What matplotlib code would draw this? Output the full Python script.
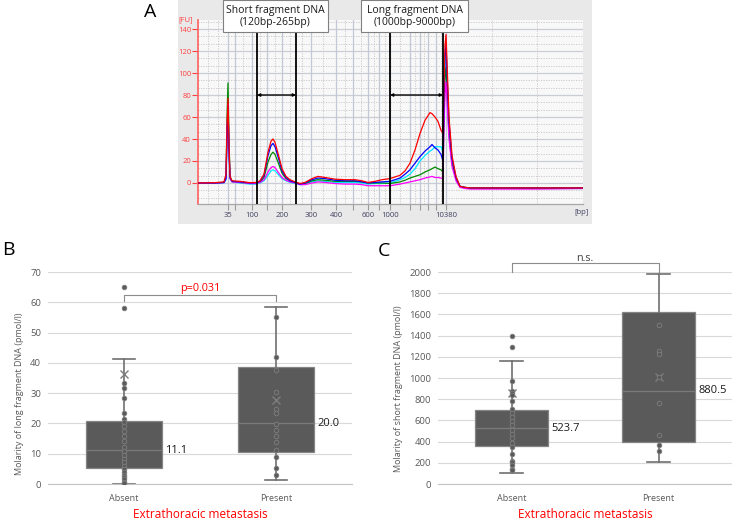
import numpy as np
import matplotlib
matplotlib.use('Agg')
import matplotlib.pyplot as plt
from matplotlib.patches import Rectangle

plt.rcParams['font.family'] = ['Open Sans', 'DejaVu Sans']

# ---------------- Panel A data (electropherogram) ----------------
migration = [0, 17, 26, 28, 29, 30, 31, 32, 34, 42,
             52, 58, 62, 66, 70, 73, 75, 77, 80, 84,
             88, 92, 97, 102, 107, 114, 120, 127, 137, 147,
             157, 164, 170, 177, 184, 192, 202, 207, 212, 217,
             222, 227, 232, 234, 237, 240, 243, 245, 246, 247,
             248, 249, 251, 254, 258, 262, 267, 272, 302, 342,
             385]
trace_red = [0, 0.3, 1, 8, 50, 77, 35, 6, 2, 1.5,
             0.3, 0.5, 2, 8, 28, 38, 40, 37, 27, 13,
             6, 3, 1, -0.5, 0.5, 4, 6, 5, 3.5, 3,
             3, 2, 0.5, 1.5, 3, 4, 7, 11, 18, 30,
             45, 57, 64, 63, 60, 56, 48, 45, 90, 125,
             135, 110, 60, 25, 6, -3, -4, -4.5, -4.5, -4.5,
             -4.5]
trace_blue = [0, 0, 0.5, 4, 40, 70, 30, 5, 1.5, 1,
              0, 0.3, 1.5, 7, 25, 34, 36, 33, 24, 11,
              5, 2, 0.5, -1, 0, 3, 4.5, 4, 2.5, 2,
              2, 1, 0, 0.5, 1, 1.5, 4.5, 8, 12, 18,
              24, 29, 33, 35, 32, 30, 26, 20, 80, 115,
              127, 100, 55, 22, 5, -3, -4, -4.5, -4.5, -4.5,
              -4.5]
trace_cyan = [0, 0, 0, 3, 35, 68, 25, 4, 1, 0,
              -1, -1, 0, 2, 7, 11, 12, 11, 8, 4,
              2, 0.5, -0.5, -1.5, -1, 1, 2, 1.5, 0.5, 0.5,
              0.5, 0, -1, -0.5, -0.5, 0, 3, 5, 8, 13,
              20, 25, 29, 30, 33, 33, 33, 28, 70, 105,
              118, 95, 50, 20, 4, -3, -4.5, -5, -5, -5,
              -5]
trace_green = [0, 0, 0.5, 6, 60, 91, 40, 6, 1.5, 0.5,
               0, 0, 1, 5, 19, 26, 28, 26, 19, 9,
               4, 2, 0.5, -1, -0.5, 2, 3, 2.5, 1.5, 1.5,
               1.5, 1, 0, 0, 0, -0.5, 1, 2.5, 4.5, 6,
               7.5, 10, 12, 13, 14.5, 13, 12, 10, 60, 95,
               105, 85, 45, 18, 4, -3, -4, -4.5, -4.5, -4.5,
               -4.5]
trace_magenta = [0, 0, 0.3, 4, 45, 72, 28, 4, 1, 0.5,
                 -0.5, -0.5, 0.5, 3, 10, 14, 15, 14, 10, 5,
                 2.5, 1, 0, -1.5, -1.5, 0, 1, 0.5, -0.5, -1,
                 -1, -1.5, -2.5, -2.5, -2.5, -2.5, -1, 0, 1, 2,
                 3, 4.5, 5.5, 6, 5, 5, 4.5, 4, 50, 80,
                 92, 75, 40, 15, 2, -4, -5, -5.5, -5.5, -5.5,
                 -5]

ladder_bp = [35, 50, 100, 150, 200, 300, 400, 500, 600, 700, 1000, 1500, 2000, 3000, 7000, 10380]
ladder_pos = [30, 37, 54, 69, 84, 113, 138, 155, 170, 181, 192, 212, 222, 230, 238, 248]
labeled_bp = [35, 100, 200, 300, 400, 600, 1000, 10380]
dotted_pos = [10, 20, 45, 62, 77, 92, 104, 125, 147, 163, 176, 187, 202, 217, 226, 243, 294, 339]
fu_ticks = [0, 20, 40, 60, 80, 100, 120, 140]
short_range = [59, 98]     # 120bp - 265bp
long_range = [192, 245]    # 1000bp - 9000bp
short_label = "Short fragment DNA\n(120bp-265bp)"
long_label = "Long fragment DNA\n(1000bp-9000bp)"

# ---------------- Panel B data ----------------
groups = ['Absent', 'Present']
long_q1 = [5.3, 10.5]
long_med = [11.1, 20.0]
long_q3 = [20.9, 38.6]
long_lo = [0.0, 1.2]
long_hi = [41.3, 58.6]
long_mean = [36.2, 27.6]
long_pts_absent = [64.9, 58.2, 33.3, 31.8, 28.4, 23.6, 21.6, 20.6, 19.0, 17.5, 15.7, 14.3,
                   12.3, 11.0, 9.6, 8.2, 7.1, 6.0, 4.9, 4.0, 2.9, 2.2, 1.5, 0.8, 0.4]
long_pts_present = [55.1, 42.0, 37.5, 30.4, 24.8, 23.5, 19.8, 17.9, 15.9, 13.9, 11.2, 9.0, 5.2, 3.0]
long_med_labels = ['11.1', '20.0']
long_p = 'p=0.031'

# ---------------- Panel C data ----------------
short_q1 = [358, 392]
short_med = [523.7, 880.5]
short_q3 = [697, 1620]
short_lo = [100, 207]
short_hi = [1158, 1978]
short_mean = [858, 1005]
short_pts_absent = [1394, 1290, 970, 873, 854, 835, 785, 703, 672, 634, 597, 556, 509, 471,
                    430, 389, 352, 279, 220, 204, 179, 138, 132]
short_pts_present = [1498, 1256, 1224, 1005, 763, 458, 367, 311]
short_med_labels = ['523.7', '880.5']
short_p = 'n.s.'

W, H = 732, 521
fig = plt.figure(figsize=(W / 100, H / 100), dpi=100)


def fbox(x0, y0, x1, y1):
    """pixel box (top-left origin) -> figure fraction rect"""
    return [x0 / W, 1 - y1 / H, (x1 - x0) / W, (y1 - y0) / H]


# ---------------- Panel A ----------------
r = fbox(178, 0, 592, 224)
fig.add_artist(Rectangle((r[0], r[1]), r[2], r[3], transform=fig.transFigure,
                         facecolor='#e9e9e9', edgecolor='none', zorder=-5))
axA = fig.add_axes(fbox(198, 20, 583, 204))
axA.set_facecolor('#f8f8f8')
axA.set_xlim(0, 385)
axA.set_ylim(-19.1, 148.2)

for y in np.arange(-20, 150, 20 / 3):
    if abs(y / 20 - round(y / 20)) < 1e-6:
        continue
    axA.axhline(y, color='#c6c6c6', lw=0.6, ls=(0, (1.5, 1.5)), zorder=0)
for y in fu_ticks:
    axA.axhline(y, color='#c9cdd6', lw=0.9, zorder=0)
for x in dotted_pos:
    axA.axvline(x, color='#c6c6c6', lw=0.6, ls=(0, (1.5, 1.5)), zorder=0)
for x in ladder_pos:
    axA.axvline(x, color='#c3c8d6', lw=0.9, zorder=0)

traces = [(trace_cyan, '#00e8ff'), (trace_green, '#008a00'), (trace_magenta, '#ff00ff'),
          (trace_blue, '#0000ff'), (trace_red, '#ff0000')]
for vals, col in traces:
    axA.plot(migration, vals, color=col, lw=0.9, zorder=3)

top_line = 137.3
axA.vlines(short_range + long_range, -19.1, top_line, color='black', lw=1.3, zorder=4)
for rng in (short_range, long_range):
    axA.annotate('', xy=(rng[1], 80), xytext=(rng[0], 80),
                 arrowprops=dict(arrowstyle='<|-|>', lw=1.0, color='black',
                                 shrinkA=0, shrinkB=0, mutation_scale=4), zorder=5)

axA.set_yticks(fu_ticks)
axA.tick_params(axis='y', colors='#ff4040', labelsize=5.5, length=4, width=0.8, pad=1)
axA.set_xticks(ladder_pos)
axA.set_xticklabels([str(b) if b in labeled_bp else '' for b in ladder_bp])
axA.tick_params(axis='x', colors='#9a9a9a', labelcolor='#404060', labelsize=5.5,
                length=4, width=0.8, pad=2)
for s in ['top', 'right']:
    axA.spines[s].set_visible(False)
axA.spines['left'].set_color('#ff6a6a')
axA.spines['left'].set_linewidth(1.3)
axA.spines['bottom'].set_color('#a8a8a8')
axA.spines['bottom'].set_linewidth(0.9)
fig.text(186 / W, 1 - 20 / H, '[FU]', color='#ff4040', fontsize=5.5, ha='center', va='center')
fig.text(589 / W, 1 - 213 / H, '[bp]', color='#404060', fontsize=5.5, ha='right', va='center')

for (x0, x1), txt in (((223, 328), short_label), ((361, 468), long_label)):
    rr = fbox(x0, 0, x1, 32)
    fig.add_artist(Rectangle((rr[0], rr[1]), rr[2], rr[3], transform=fig.transFigure,
                             facecolor='white', edgecolor='#808080', lw=0.8, zorder=5))
    fig.text((x0 + x1) / 2 / W, 1 - 16.5 / H, txt, ha='center', va='center',
             fontsize=7.5, color='#1a1a1a', linespacing=1.25, zorder=6)

fig.text(150 / W, 1 - 12 / H, 'A', fontsize=14, ha='center', va='center', color='black')
fig.text(8 / W, 1 - 250 / H, 'B', fontsize=14, ha='center', va='center', color='black')
fig.text(384 / W, 1 - 251 / H, 'C', fontsize=14, ha='center', va='center', color='black')


# ---------------- Box panels ----------------
def box_panel(rect, q1, med, q3, lo, hi, mean, pts, ylim, yticks, ylabel, lab_coords,
              med_labels, bracket, ptext, pcolor, ptext_y):
    ax = fig.add_axes(rect)
    stats = []
    for i in range(2):
        stats.append(dict(med=med[i], q1=q1[i], q3=q3[i], whislo=lo[i], whishi=hi[i],
                          mean=mean[i], fliers=[], label=groups[i]))
    ax.bxp(stats, positions=[0, 1], widths=0.5, patch_artist=True, showmeans=True,
           showfliers=False, capwidths=0.15,
           boxprops=dict(facecolor='#5a5a5a', edgecolor='#858585', lw=0.9),
           medianprops=dict(color='#7a7a7a', lw=0.9),
           whiskerprops=dict(color='#707070', lw=1.2),
           capprops=dict(color='#707070', lw=1.2),
           meanprops=dict(marker='x', markeredgecolor='#7d7d7d', markersize=6,
                          markeredgewidth=1.0),
           zorder=2)
    for i, p in enumerate(pts):
        ax.scatter(np.full(len(p), i), p, s=11, facecolor='#5a5a5a', edgecolor='#7e7e7e',
                   linewidths=0.6, zorder=3)
    ax.set_xlim(-0.5, 1.5)
    ax.set_ylim(*ylim)
    ax.set_yticks(yticks)
    ax.yaxis.grid(True, color='#d9d9d9', lw=0.8)
    ax.set_axisbelow(True)
    for s in ['top', 'right', 'left']:
        ax.spines[s].set_visible(False)
    ax.spines['bottom'].set_color('#c4c4c4')
    ax.spines['bottom'].set_linewidth(0.8)
    ax.tick_params(axis='y', length=0, labelsize=6.8, labelcolor='#595959', pad=5)
    ax.tick_params(axis='x', length=0, labelsize=6.5, labelcolor='#595959', pad=7)
    ax.set_xticks([0, 1])
    ax.set_xticklabels(groups)
    ax.set_ylabel(ylabel, fontsize=6.5, color='#595959')
    ax.yaxis.set_label_coords(*lab_coords)
    for i in range(2):
        ax.text(i + 0.27, med[i], med_labels[i], fontsize=8, color='#1a1a1a',
                ha='left', va='center')
    ax.plot([0, 0, 1, 1], bracket, color='#8c8c8c', lw=0.8, clip_on=False)
    ax.text(0.5, ptext_y, ptext, color=pcolor, fontsize=7.8, ha='center', va='center')
    ax.text(0.5, -31 / 212, 'Extrathoracic metastasis', transform=ax.transAxes,
            color='#ff0000', fontsize=8.5, ha='center', va='center')
    return ax


box_panel(fbox(48, 272, 352, 484), long_q1, long_med, long_q3, long_lo, long_hi, long_mean,
          [long_pts_absent, long_pts_present], (0, 70), list(range(0, 71, 10)),
          'Molarity of long fragment DNA (pmol/l)', (-(48 - 24) / 304, 0.425),
          long_med_labels, [60.5, 62.3, 62.3, 60.5], long_p, '#ff0000', 64.6)

box_panel(fbox(438, 272, 732, 484), short_q1, short_med, short_q3, short_lo, short_hi,
          short_mean, [short_pts_absent, short_pts_present], (0, 2000),
          list(range(0, 2001, 200)), 'Molarity of short fragment DNA (pmol/l)',
          (-(438 - 403) / 294, 0.448), short_med_labels, [2000, 2085, 2085, 2000],
          short_p, '#404040', 2125)

fig.savefig('out.png', dpi=100)
